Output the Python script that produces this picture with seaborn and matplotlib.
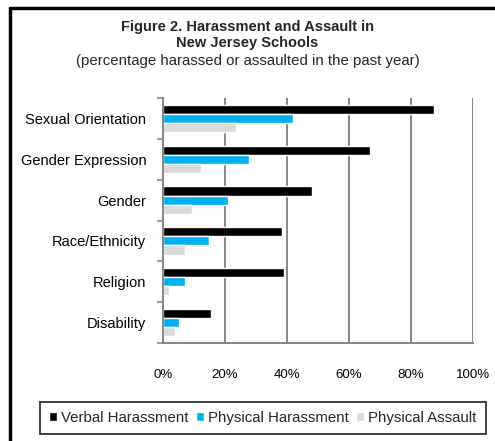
import numpy as np
import pandas as pd
import matplotlib
matplotlib.use('Agg')
import matplotlib.pyplot as plt
from matplotlib.lines import Line2D
from matplotlib.ticker import FixedLocator, PercentFormatter
import seaborn as sns

# ==========================================
# Data (percent harassed / assaulted)
# ==========================================
categories = ['Sexual Orientation', 'Gender Expression', 'Gender',
              'Race/Ethnicity', 'Religion', 'Disability']
series = ['Verbal Harassment', 'Physical Harassment', 'Physical Assault']
verbal = [87.3, 66.8, 48.2, 38.4, 38.9, 15.5]
physical_harassment = [41.9, 27.6, 20.9, 14.7, 7.2, 5.2]
physical_assault = [23.5, 12.3, 9.3, 7.2, 1.8, 3.8]
colors = ['#000000', '#00b0f0', '#d9d9d9']

df = pd.DataFrame({
    'Category': categories * 3,
    'Type': np.repeat(series, len(categories)),
    'Percent': verbal + physical_harassment + physical_assault,
})

# ==========================================
# Figure
# ==========================================
sns.set_theme(style='white')
plt.rcParams['font.family'] = ['Liberation Sans', 'DejaVu Sans']

fig = plt.figure(figsize=(4.95, 4.41), dpi=100)
ax = fig.add_axes([163 / 495, 1 - 343 / 441, 310 / 495, 245 / 441])

sns.barplot(data=df, y='Category', x='Percent', hue='Type', order=categories,
            hue_order=series, palette=colors, orient='h', width=0.67,
            saturation=1, ax=ax, legend=True)

ax.set_xlim(0, 100)
ax.set_ylim(len(categories) - 0.5, -0.5)
ax.xaxis.set_major_locator(FixedLocator([0, 20, 40, 60, 80, 100]))
ax.xaxis.set_major_formatter(PercentFormatter(decimals=0))
ax.grid(axis='x', color='#868686', linewidth=1.4)
ax.set_axisbelow(True)
ax.set_xlabel('')
ax.set_ylabel('')

for side in ['top', 'right']:
    ax.spines[side].set_visible(False)
for side in ['left', 'bottom']:
    ax.spines[side].set_color('#868686')
    ax.spines[side].set_linewidth(1.4)

ax.tick_params(axis='x', length=5, width=1.4, color='#868686', direction='out',
               pad=14, labelsize=9.5, labelcolor='#000000')
ax.tick_params(axis='y', which='major', length=0, pad=12, labelsize=10.5,
               labelcolor='#000000')
ax.set_yticks(np.arange(len(categories) + 1) - 0.5, minor=True)
ax.tick_params(axis='y', which='minor', length=4, width=1.2, color='#868686',
               direction='out', left=True)

# legend at the bottom in a black box
handles, labels = ax.get_legend_handles_labels()
ax.get_legend().remove()
leg = fig.legend(handles, labels, loc='lower left',
                 bbox_to_anchor=(40 / 495, 1 - 434 / 441), ncol=3,
                 fontsize=10.8, frameon=True, fancybox=False,
                 handlelength=0.5, handleheight=0.5, handletextpad=0.3,
                 columnspacing=0.5, borderpad=0.6, borderaxespad=0)
leg.get_frame().set_edgecolor('#000000')
leg.get_frame().set_linewidth(1.3)

# titles
fig.text(0.5, 1 - 35 / 441, 'Figure 2. Harassment and Assault in\nNew Jersey Schools',
         ha='center', va='center', fontsize=10.5, fontweight='bold', linespacing=1.12)
fig.text(0.5, 1 - 61 / 441, '(percentage harassed or assaulted in the past year)',
         ha='center', va='center', fontsize=10.8)

# outer frame (left and top edges only, rest is cut off)
fig.add_artist(Line2D([10 / 495, 10 / 495], [0, 1 - 8 / 441], color='black',
                      linewidth=2.5, transform=fig.transFigure))
fig.add_artist(Line2D([10 / 495, 1], [1 - 8 / 441, 1 - 8 / 441], color='black',
                      linewidth=2.5, transform=fig.transFigure))

fig.savefig('out.png', dpi=100)
plt.close(fig)
